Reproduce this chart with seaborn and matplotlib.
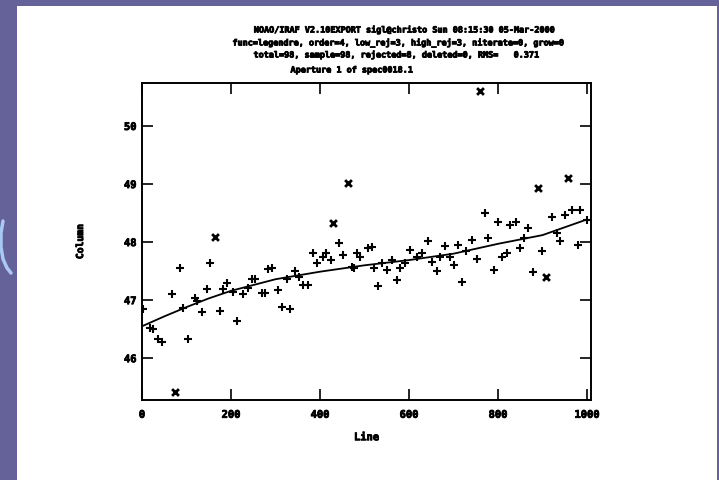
import pandas as pd
import seaborn as sns
import matplotlib.pyplot as plt
import matplotlib.patheffects as pe
from matplotlib.patches import Rectangle
from matplotlib.lines import Line2D

# Points kept in the fit (line, column value)
line_pts = [2, 18, 25, 36, 45, 67, 85, 92, 104, 119, 123, 135, 146, 153, 175, 182, 191,
            205, 213, 227, 238, 247, 254, 269, 276, 283, 292, 306, 315, 326, 333, 344,
            353, 362, 373, 384, 393, 407, 413, 424, 443, 452, 472, 476, 483, 490, 508,
            517, 521, 530, 539, 550, 562, 573, 580, 591, 602, 618, 629, 643, 652, 663,
            670, 681, 692, 701, 710, 719, 728, 741, 753, 771, 778, 791, 800, 809, 820,
            827, 840, 849, 858, 867, 879, 899, 921, 932, 939, 950, 966, 980, 984, 1000]
col_pts = [46.85, 46.52, 46.5, 46.33, 46.28, 47.1, 47.55, 46.86, 46.33, 47.03, 46.98, 46.8,
           47.19, 47.64, 46.81, 47.2, 47.29, 47.14, 46.64, 47.1, 47.21, 47.36, 47.36,
           47.12, 47.12, 47.53, 47.55, 47.17, 46.88, 47.36, 46.84, 47.5, 47.4, 47.26,
           47.26, 47.81, 47.64, 47.74, 47.81, 47.69, 47.98, 47.78, 47.57, 47.55, 47.81,
           47.74, 47.9, 47.91, 47.55, 47.24, 47.64, 47.52, 47.69, 47.34, 47.55, 47.64,
           47.87, 47.74, 47.81, 48.02, 47.66, 47.5, 47.74, 47.93, 47.74, 47.6, 47.95,
           47.31, 47.84, 48.03, 47.7, 48.5, 48.07, 47.52, 48.34, 47.74, 47.81, 48.29,
           48.34, 47.9, 48.07, 48.24, 47.48, 47.84, 48.43, 48.15, 48.02, 48.47, 48.55,
           47.95, 48.55, 48.38]

# Rejected points
line_rej = [74, 164, 429, 463, 760, 890, 908, 957]
col_rej = [45.41, 48.09, 48.33, 49.02, 50.6, 48.93, 47.4, 49.1]

# Fitted legendre curve
line_fit = [0, 50, 100, 150, 200, 300, 400, 500, 600, 700, 800, 900, 1000]
col_fit = [46.55, 46.72, 46.88, 47.03, 47.16, 47.36, 47.49, 47.6, 47.69, 47.8, 47.97,
           48.12, 48.39]

title_lines = [
    "NOAO/IRAF V2.10EXPORT sigl@christo Sun 08:15:30 05-Mar-2000",
    "func=legendre, order=4, low_rej=3, high_rej=3, niterate=0, grow=0",
    "total=98, sample=98, rejected=8, deleted=0, RMS=   0.371",
    "Aperture 1 of spec0018.1",
]
# centre of each title line in pixels (x, y from top)
title_cx = [405, 399, 397, 352]
title_cy = [30, 43, 55, 70]

sns.set_style("ticks")
plt.rcParams['font.family'] = ['DejaVu Sans Mono']
plt.rcParams['text.color'] = 'black'
plt.rcParams['axes.labelcolor'] = 'black'
plt.rcParams['xtick.color'] = 'black'
plt.rcParams['ytick.color'] = 'black'
plt.rcParams['axes.edgecolor'] = 'black'

# IRAF text is heavy and blocky, thicken it a little
heavy = [pe.withStroke(linewidth=0.6, foreground='black')]

W, H = 719, 480
fig = plt.figure(figsize=(W / 100, H / 100), dpi=100, facecolor='#65629a')

# white slide area and the small blue arc on the left edge
fig.patches.append(Rectangle((17 / W, 0), 700 / W, 474 / H, transform=fig.transFigure,
                             facecolor='white', edgecolor='none', zorder=-1))
arc_x = [3, 1, 1, 3, 7, 11]
arc_y = [221, 233, 247, 259, 268, 273]
fig.lines.append(Line2D([v / W for v in arc_x], [1 - v / H for v in arc_y],
                        transform=fig.transFigure, color='#a9c9f2', lw=2.5))

ax = fig.add_axes([142 / W, 1 - 400 / H, 449 / W, 317 / H])
ax.set_facecolor('white')

sns.lineplot(x=line_fit, y=col_fit, ax=ax, color='black', lw=1.3,
             sort=False, estimator=None)
sns.scatterplot(x=line_pts, y=col_pts, ax=ax, marker='+', s=34, color='black',
                linewidth=1.5)
sns.scatterplot(x=line_rej, y=col_rej, ax=ax, marker='x', s=24, color='black',
                linewidth=2.0)

ax.set_xlim(0, 1009)
ax.set_ylim(45.28, 50.74)
ax.set_xticks([0, 200, 400, 600, 800, 1000])
ax.set_yticks([46, 47, 48, 49, 50])
ax.tick_params(direction='in', length=8, width=1.2, top=True, right=True,
               labelsize=7.5)
ax.tick_params(axis='x', pad=7)
ax.tick_params(axis='y', pad=4)
for lab in ax.get_xticklabels() + ax.get_yticklabels():
    lab.set_fontweight('bold')
    lab.set_path_effects(heavy)
for sp in ax.spines.values():
    sp.set_linewidth(1.4)

ax.set_xlabel("Line", fontsize=7.5, fontweight='bold', labelpad=9, path_effects=heavy)
ax.set_ylabel("Column", fontsize=7, fontweight='bold', labelpad=28, path_effects=heavy)

for txt, cx, cy in zip(title_lines, title_cx, title_cy):
    fig.text(cx / W, 1 - cy / H, txt, ha='center', va='center', fontsize=6.1,
             fontweight='bold', path_effects=heavy)

fig.savefig('out.png', dpi=100, facecolor=fig.get_facecolor())
